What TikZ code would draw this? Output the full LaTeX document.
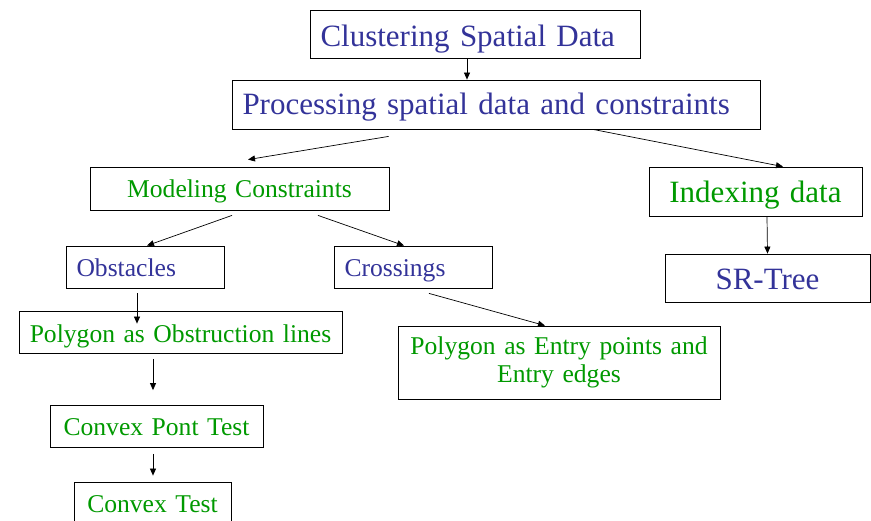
\documentclass[tikz,border=0pt]{standalone}
\usepackage{fontspec}
\setmainfont{Liberation Serif}
\usetikzlibrary{arrows.meta}
\definecolor{titleblue}{RGB}{51,51,153}
\definecolor{leafgreen}{RGB}{0,153,0}

\begin{document}
\begin{tikzpicture}[x=1pt,y=-1pt,
    box/.style={draw,line width=0.8pt,inner xsep=5pt,inner ysep=0pt,align=center},
    bigbox/.style={box,font=\fontsize{31}{34}\selectfont,text height=24pt,text depth=2pt,minimum height=48pt},
    smallbox/.style={box,font=\fontsize{25.6}{28.3}\selectfont,text height=20pt,text depth=2pt,minimum height=42pt},
    lefttext/.style={inner xsep=10.5pt,align=left},
    arr/.style={-{Triangle[length=7pt,width=6pt]},line width=0.7pt}]
    \useasboundingbox (0,0) rectangle (871,520);

    % top of the tree
    \node[bigbox,lefttext,text=titleblue,text width=309pt,text height=26pt] (clust) at (475,34) {Clustering Spatial Data};
    \node[bigbox,lefttext,text=titleblue,text width=507pt,text height=21pt,minimum height=49pt] (proc) at (496,104.5) {Processing spatial data and constraints};

    % constraints branch
    \node[smallbox,text=leafgreen,text width=289pt,minimum height=43pt,text height=19pt] (model) at (239.5,188.5) {Modeling Constraints};
    \node[smallbox,lefttext,text=titleblue,text width=137pt,text height=21pt] (obst) at (145,267) {Obstacles};
    \node[smallbox,lefttext,text=titleblue,text width=137pt,text height=21pt] (cross) at (413,267) {Crossings};
    \node[smallbox,text=leafgreen,text width=313pt,text height=21pt] (polyobs) at (180.5,332.5) {Polygon as Obstruction lines};
    \node[box,font=\fontsize{25.6}{28.3}\selectfont,text=leafgreen,text width=312pt,minimum height=73pt] (polyent) at (559,362.5) {Polygon as Entry points and\\Entry edges};
    \node[smallbox,text=leafgreen,text width=203pt,text height=20.5pt] (cpont) at (156.5,426.5) {Convex Pont Test};
    \node[smallbox,text=leafgreen,text width=147pt,text height=21pt] (ctest) at (152.5,503) {Convex Test};

    % index branch
    \node[bigbox,text=leafgreen,text width=203pt,minimum height=49pt] (index) at (755.5,191.5) {Indexing data};
    \node[bigbox,text=titleblue,text width=195pt] (srtree) at (767.5,278) {SR-Tree};

    % arrows
    \draw[arr] ([xshift=-8pt]clust.south) -- ([xshift=-29pt]proc.north);
    \draw[arr] ([xshift=157pt,yshift=-7pt]proc.south west) -- ([xshift=8.5pt,yshift=7pt]model.north);
    \draw[arr] ([xshift=97pt]proc.south) -- ([xshift=27.5pt]index.north);
    \draw[arr] ([xshift=11.5pt]index.south) -- (srtree.north);
    \draw[arr] ([xshift=-7.5pt,yshift=-5pt]model.south) -- ([xshift=2pt]obst.north);
    \draw[arr] ([xshift=78.5pt,yshift=-5pt]model.south) -- ([xshift=-9pt]cross.north);
    \draw[arr] ([xshift=-8pt,yshift=-5pt]obst.south) -- ([xshift=-43.5pt,yshift=-12.5pt]polyobs.north);
    \draw[arr] ([xshift=16pt,yshift=-5pt]cross.south) -- ([xshift=-14pt]polyent.north);
    \draw[arr] ([xshift=-27.5pt,yshift=-5pt]polyobs.south) -- ([xshift=-3.5pt,yshift=15pt]cpont.north);
    \draw[arr] ([xshift=-3.5pt,yshift=-6pt]cpont.south) -- ([xshift=0.5pt,yshift=6pt]ctest.north);
  \end{tikzpicture}
\end{document}
